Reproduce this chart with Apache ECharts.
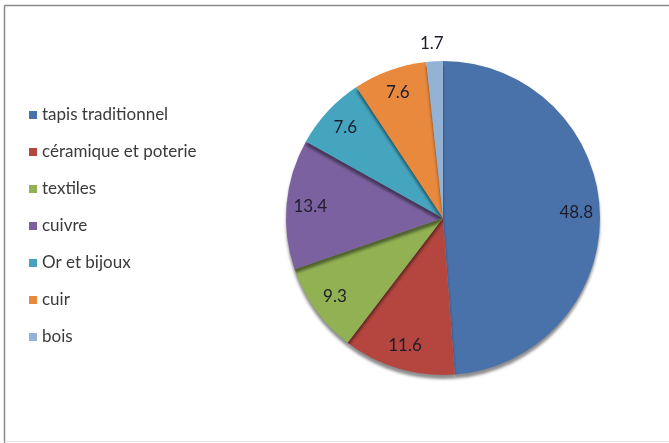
<!DOCTYPE html>
<html>
<head>
<meta charset="utf-8">
<script src="https://cdn.jsdelivr.net/npm/echarts@6/dist/echarts.min.js"></script>
<style>
  html, body { margin: 0; padding: 0; background: #ffffff; }
  #chart { width: 669px; height: 443px; }
</style>
</head>
<body>
<div id="chart"></div>
<script>
// Craft sectors and their shares (%)
const categories = ['tapis traditionnel', 'céramique et poterie', 'textiles', 'cuivre', 'Or et bijoux', 'cuir', 'bois'];
const shares = [48.8, 11.6, 9.3, 13.4, 7.6, 7.6, 1.7];
const sliceColors = ['#4a72aa', '#b4463f', '#91b153', '#7c61a0', '#45a5bf', '#e8893e', '#94b1d6'];

const CX = 443, CY = 218, R = 157;
const FONT = 'Lato, "Open Sans", sans-serif';

const chart = echarts.init(document.getElementById('chart'), null, { renderer: 'canvas' });

const pieData = categories.map((name, i) => ({
  name: name,
  value: shares[i],
  itemStyle: { color: sliceColors[i] }
}));

// Label ring: same values, transparent, so the library places the labels
// in the outer band of the pie.
const labelData = categories.map((name, i) => {
  const item = { name: name, value: shares[i] };
  if (shares[i] < 3) {
    item.label = { position: 'outside', distanceToLabelLine: -10 };
    item.labelLine = { show: false, length: 18, length2: 0 };
  }
  return item;
});

chart.setOption({
  backgroundColor: '#ffffff',
  animation: false,
  color: sliceColors,
  legend: {
    orient: 'vertical',
    left: 24,
    top: 101,
    icon: 'rect',
    itemWidth: 8,
    itemHeight: 8,
    itemGap: 19,
    selectedMode: false,
    data: categories,
    textStyle: { fontFamily: FONT, fontSize: 17, color: '#3a3a3a', lineHeight: 18 }
  },
  series: [
    {
      type: 'pie',
      center: [CX, CY],
      radius: [0, R],
      startAngle: 90,
      clockwise: true,
      silent: true,
      label: { show: false },
      labelLine: { show: false },
      itemStyle: {
        borderWidth: 0,
        shadowColor: 'rgba(0,0,0,0.45)',
        shadowBlur: 3,
        shadowOffsetY: 4
      },
      data: pieData
    },
    {
      type: 'pie',
      center: [CX, CY],
      radius: [R * 0.66, R],
      startAngle: 90,
      clockwise: true,
      silent: true,
      avoidLabelOverlap: false,
      itemStyle: { color: 'rgba(0,0,0,0)', borderWidth: 0 },
      label: {
        show: true,
        position: 'inside',
        formatter: p => p.value.toFixed(1),
        fontFamily: FONT,
        fontSize: 17,
        color: '#1c1c2a'
      },
      labelLine: { show: false },
      data: labelData
    }
  ],
  graphic: [
    { type: 'line', shape: { x1: 4.5, y1: 5.5, x2: 669, y2: 5.5 }, style: { stroke: '#8a8a8a', lineWidth: 1.5 }, silent: true },
    { type: 'line', shape: { x1: 4.5, y1: 5.5, x2: 4.5, y2: 443 }, style: { stroke: '#8a8a8a', lineWidth: 1.5 }, silent: true },
    { type: 'line', shape: { x1: 4.5, y1: 441.5, x2: 669, y2: 441.5 }, style: { stroke: '#e4e4e4', lineWidth: 1 }, silent: true }
  ]
});
</script>
</body>
</html>
